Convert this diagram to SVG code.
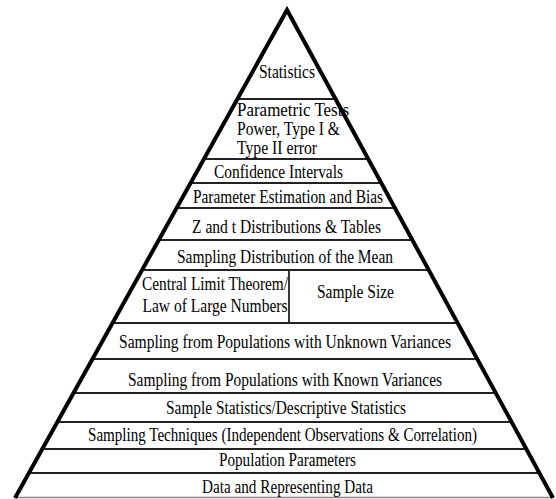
<svg xmlns="http://www.w3.org/2000/svg" width="556" height="499" viewBox="0 0 556 499">
  <style>
    .lbl { font-family: "Liberation Serif", "Times New Roman", serif; font-size: 19px; fill: #000; }
    .mid { text-anchor: middle; }
    .div { stroke: #222; stroke-width: 1.8; fill: none; }
    .edge { stroke: #000; stroke-width: 4; fill: none; stroke-linejoin: miter; stroke-miterlimit: 20; }
    .base { stroke: #888; stroke-width: 1.5; fill: none; }
  </style>
  <rect width="556" height="499" fill="#fff"/>

  <!-- layer dividers -->
  <g id="dividers">
    <line class="div" x1="237.3" y1="99" x2="335.6" y2="99"/>
    <line class="div" x1="203.8" y1="159" x2="368.4" y2="159"/>
    <line class="div" x1="190.4" y1="183" x2="381.5" y2="183"/>
    <line class="div" x1="176.4" y1="208" x2="395.1" y2="208"/>
    <line class="div" x1="158.5" y1="240" x2="412.6" y2="240"/>
    <line class="div" x1="141.8" y1="270" x2="429.0" y2="270"/>
    <line class="div" x1="289" y1="270" x2="289" y2="323"/>
    <line class="div" x1="112.2" y1="323" x2="458.0" y2="323"/>
    <line class="div" x1="92.1" y1="359" x2="477.6" y2="359"/>
    <line class="div" x1="73.1" y1="393" x2="496.2" y2="393"/>
    <line class="div" x1="56.9" y1="422" x2="512.0" y2="422"/>
    <line class="div" x1="41.8" y1="449" x2="526.8" y2="449"/>
    <line class="div" x1="28.4" y1="473" x2="539.9" y2="473"/>
    <line class="base" x1="15" y1="497.5" x2="553" y2="497.5"/>
  </g>

  <!-- pyramid outline -->
  <g id="outline">
    <polyline class="edge" points="15,498 287,10 553,498"/>
  </g>

  <g id="statistics">
    <text class="lbl mid" x="287" y="77.5" textLength="56" lengthAdjust="spacingAndGlyphs">Statistics</text>
  </g>
  <g id="parametric-tests">
    <text class="lbl" x="237" y="115.5" textLength="112" lengthAdjust="spacingAndGlyphs">Parametric Tests</text>
    <text class="lbl" x="237" y="134.5" textLength="103" lengthAdjust="spacingAndGlyphs">Power, Type I &amp;</text>
    <text class="lbl" x="237" y="153.5" textLength="80" lengthAdjust="spacingAndGlyphs">Type II error</text>
  </g>
  <g id="confidence-intervals">
    <text class="lbl mid" x="278.5" y="177.5" textLength="129" lengthAdjust="spacingAndGlyphs">Confidence Intervals</text>
  </g>
  <g id="parameter-estimation">
    <text class="lbl mid" x="288" y="202.5" textLength="190" lengthAdjust="spacingAndGlyphs">Parameter Estimation and Bias</text>
  </g>
  <g id="z-t-distributions">
    <text class="lbl mid" x="286.5" y="232.5" textLength="189" lengthAdjust="spacingAndGlyphs">Z and t Distributions &amp; Tables</text>
  </g>
  <g id="sampling-distribution">
    <text class="lbl mid" x="285" y="262.5" textLength="216" lengthAdjust="spacingAndGlyphs">Sampling Distribution of the Mean</text>
  </g>
  <g id="central-limit">
    <text class="lbl mid" x="215" y="289.5" textLength="146" lengthAdjust="spacingAndGlyphs">Central Limit Theorem/</text>
    <text class="lbl mid" x="215" y="311.5" textLength="145" lengthAdjust="spacingAndGlyphs">Law of Large Numbers</text>
  </g>
  <g id="sample-size">
    <text class="lbl mid" x="355.5" y="297.5" textLength="77" lengthAdjust="spacingAndGlyphs">Sample Size</text>
  </g>
  <g id="unknown-variances">
    <text class="lbl mid" x="285" y="347.5" textLength="332" lengthAdjust="spacingAndGlyphs">Sampling from Populations with Unknown Variances</text>
  </g>
  <g id="known-variances">
    <text class="lbl mid" x="285" y="385.5" textLength="314" lengthAdjust="spacingAndGlyphs">Sampling from Populations with Known Variances</text>
  </g>
  <g id="sample-statistics">
    <text class="lbl mid" x="286" y="413.5" textLength="240" lengthAdjust="spacingAndGlyphs">Sample Statistics/Descriptive Statistics</text>
  </g>
  <g id="sampling-techniques">
    <text class="lbl mid" x="282.5" y="440.5" textLength="389" lengthAdjust="spacingAndGlyphs">Sampling Techniques (Independent Observations &amp; Correlation)</text>
  </g>
  <g id="population-parameters">
    <text class="lbl mid" x="287.5" y="465.5" textLength="137" lengthAdjust="spacingAndGlyphs">Population Parameters</text>
  </g>
  <g id="data">
    <text class="lbl mid" x="287.5" y="492.5" textLength="171" lengthAdjust="spacingAndGlyphs">Data and Representing Data</text>
  </g>
</svg>
